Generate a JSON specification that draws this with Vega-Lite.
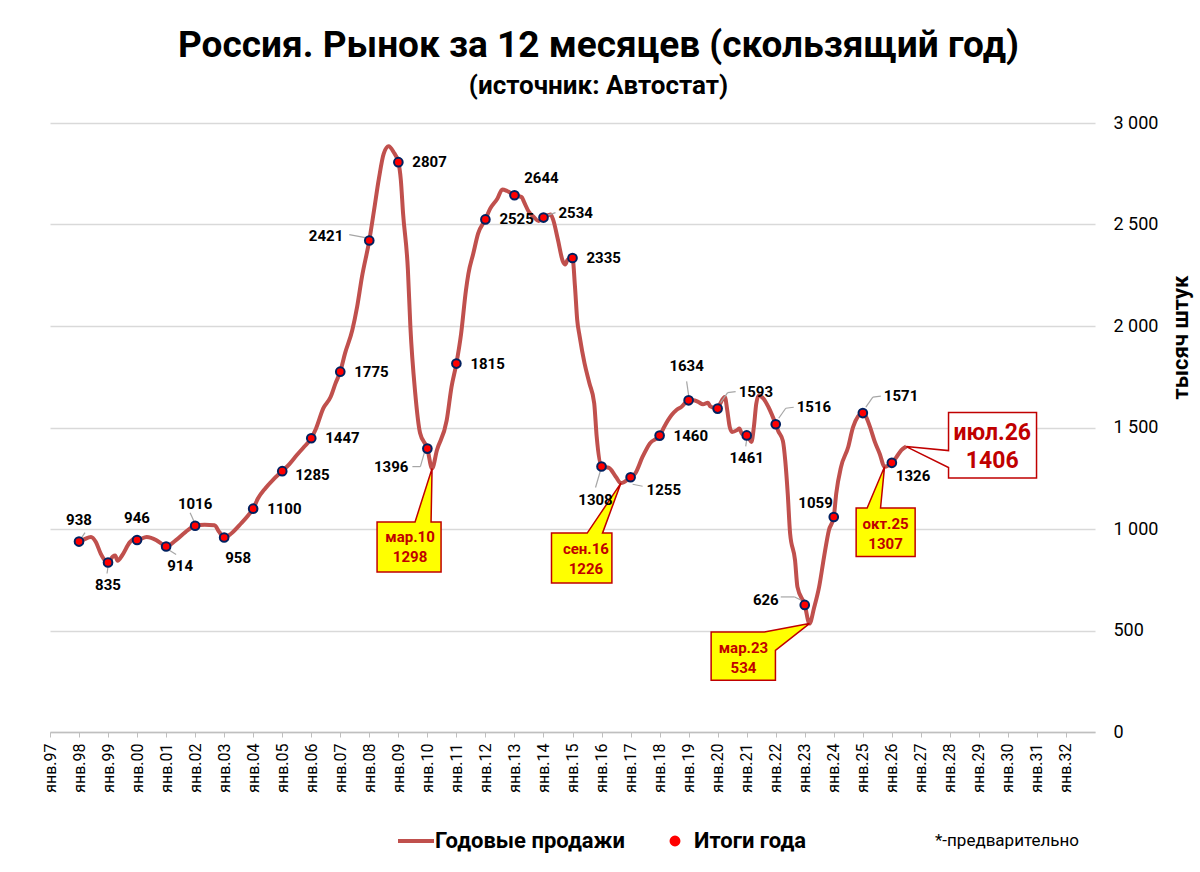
{
  "$schema": "https://vega.github.io/schema/vega-lite/v6.json",
  "width": 1045,
  "height": 609,
  "autosize": {"type": "none"},
  "padding": {"left": 50, "top": 123, "right": 105, "bottom": 140},
  "background": "white",
  "title": {
    "text": "Россия. Рынок за 12 месяцев (скользящий год)",
    "subtitle": "(источник: Автостат)",
    "anchor": "middle",
    "dx": 26,
    "offset": 14,
    "font": "Roboto",
    "fontSize": 37,
    "fontWeight": "bold",
    "color": "#000000",
    "subtitleFont": "Roboto",
    "subtitleFontSize": 26,
    "subtitleFontWeight": "bold",
    "subtitleColor": "#000000",
    "subtitlePadding": 8
  },
  "datasets": {
    "sales": [
      {"date": "1998/01/01", "value": 938},
      {"date": "1998/03/01", "value": 948},
      {"date": "1998/06/01", "value": 961},
      {"date": "1998/08/01", "value": 936},
      {"date": "1998/10/01", "value": 879},
      {"date": "1998/12/01", "value": 842},
      {"date": "1999/01/01", "value": 835},
      {"date": "1999/03/01", "value": 864},
      {"date": "1999/04/01", "value": 869},
      {"date": "1999/05/01", "value": 844},
      {"date": "1999/07/01", "value": 872},
      {"date": "1999/10/01", "value": 934},
      {"date": "1999/12/01", "value": 952},
      {"date": "2000/01/01", "value": 946},
      {"date": "2000/05/01", "value": 960},
      {"date": "2000/09/01", "value": 944},
      {"date": "2000/11/01", "value": 928},
      {"date": "2001/01/01", "value": 914},
      {"date": "2001/05/01", "value": 944},
      {"date": "2001/09/01", "value": 985},
      {"date": "2002/01/01", "value": 1016},
      {"date": "2002/05/01", "value": 1021},
      {"date": "2002/09/01", "value": 1018},
      {"date": "2002/11/01", "value": 985},
      {"date": "2003/01/01", "value": 958},
      {"date": "2003/04/01", "value": 978},
      {"date": "2003/08/01", "value": 1027},
      {"date": "2003/11/01", "value": 1068},
      {"date": "2004/01/01", "value": 1100},
      {"date": "2004/03/01", "value": 1150},
      {"date": "2004/06/01", "value": 1200},
      {"date": "2004/09/01", "value": 1240},
      {"date": "2005/01/01", "value": 1285},
      {"date": "2005/04/01", "value": 1320},
      {"date": "2005/07/01", "value": 1363},
      {"date": "2005/10/01", "value": 1404},
      {"date": "2006/01/01", "value": 1447},
      {"date": "2006/03/01", "value": 1494},
      {"date": "2006/06/01", "value": 1594},
      {"date": "2006/09/01", "value": 1650},
      {"date": "2006/11/01", "value": 1716},
      {"date": "2007/01/01", "value": 1775},
      {"date": "2007/03/01", "value": 1864},
      {"date": "2007/06/01", "value": 1979},
      {"date": "2007/08/01", "value": 2094},
      {"date": "2007/10/01", "value": 2242},
      {"date": "2008/01/01", "value": 2421},
      {"date": "2008/03/01", "value": 2570},
      {"date": "2008/05/01", "value": 2726},
      {"date": "2008/07/01", "value": 2849},
      {"date": "2008/09/01", "value": 2885},
      {"date": "2008/11/01", "value": 2857},
      {"date": "2009/01/01", "value": 2807},
      {"date": "2009/02/01", "value": 2720},
      {"date": "2009/03/01", "value": 2556},
      {"date": "2009/05/01", "value": 2277},
      {"date": "2009/06/01", "value": 1998},
      {"date": "2009/08/01", "value": 1670},
      {"date": "2009/10/01", "value": 1473},
      {"date": "2010/01/01", "value": 1396},
      {"date": "2010/03/01", "value": 1298},
      {"date": "2010/05/01", "value": 1388},
      {"date": "2010/09/01", "value": 1535},
      {"date": "2010/11/01", "value": 1700},
      {"date": "2011/01/01", "value": 1815},
      {"date": "2011/03/01", "value": 1961},
      {"date": "2011/05/01", "value": 2175},
      {"date": "2011/06/01", "value": 2257},
      {"date": "2011/08/01", "value": 2356},
      {"date": "2011/10/01", "value": 2455},
      {"date": "2012/01/01", "value": 2525},
      {"date": "2012/03/01", "value": 2578},
      {"date": "2012/06/01", "value": 2628},
      {"date": "2012/08/01", "value": 2673},
      {"date": "2012/10/01", "value": 2665},
      {"date": "2013/01/01", "value": 2644},
      {"date": "2013/04/01", "value": 2635},
      {"date": "2013/05/01", "value": 2611},
      {"date": "2013/07/01", "value": 2562},
      {"date": "2013/09/01", "value": 2537},
      {"date": "2013/11/01", "value": 2517},
      {"date": "2014/01/01", "value": 2534},
      {"date": "2014/03/01", "value": 2546},
      {"date": "2014/04/01", "value": 2549},
      {"date": "2014/05/01", "value": 2525},
      {"date": "2014/07/01", "value": 2426},
      {"date": "2014/09/01", "value": 2319},
      {"date": "2014/10/01", "value": 2303},
      {"date": "2014/11/01", "value": 2327},
      {"date": "2015/01/01", "value": 2335},
      {"date": "2015/02/01", "value": 2195},
      {"date": "2015/03/01", "value": 2031},
      {"date": "2015/04/01", "value": 1949},
      {"date": "2015/06/01", "value": 1817},
      {"date": "2015/08/01", "value": 1719},
      {"date": "2015/10/01", "value": 1620},
      {"date": "2015/11/01", "value": 1456},
      {"date": "2016/01/01", "value": 1308},
      {"date": "2016/02/01", "value": 1305},
      {"date": "2016/04/01", "value": 1302},
      {"date": "2016/07/01", "value": 1256},
      {"date": "2016/09/01", "value": 1226},
      {"date": "2017/01/01", "value": 1255},
      {"date": "2017/03/01", "value": 1274},
      {"date": "2017/06/01", "value": 1356},
      {"date": "2017/09/01", "value": 1422},
      {"date": "2018/01/01", "value": 1460},
      {"date": "2018/03/01", "value": 1504},
      {"date": "2018/06/01", "value": 1561},
      {"date": "2018/08/01", "value": 1586},
      {"date": "2018/10/01", "value": 1601},
      {"date": "2019/01/01", "value": 1634},
      {"date": "2019/03/01", "value": 1634},
      {"date": "2019/05/01", "value": 1626},
      {"date": "2019/07/01", "value": 1614},
      {"date": "2019/09/01", "value": 1622},
      {"date": "2019/10/01", "value": 1604},
      {"date": "2020/01/01", "value": 1593},
      {"date": "2020/02/01", "value": 1617},
      {"date": "2020/04/01", "value": 1650},
      {"date": "2020/05/01", "value": 1585},
      {"date": "2020/06/01", "value": 1503},
      {"date": "2020/07/01", "value": 1478},
      {"date": "2020/09/01", "value": 1487},
      {"date": "2020/10/01", "value": 1495},
      {"date": "2020/11/01", "value": 1470},
      {"date": "2021/01/01", "value": 1461},
      {"date": "2021/02/01", "value": 1445},
      {"date": "2021/03/01", "value": 1429},
      {"date": "2021/04/01", "value": 1503},
      {"date": "2021/05/01", "value": 1617},
      {"date": "2021/06/01", "value": 1658},
      {"date": "2021/08/01", "value": 1642},
      {"date": "2021/10/01", "value": 1601},
      {"date": "2022/01/01", "value": 1516},
      {"date": "2022/02/01", "value": 1483},
      {"date": "2022/04/01", "value": 1434},
      {"date": "2022/05/01", "value": 1336},
      {"date": "2022/06/01", "value": 1174},
      {"date": "2022/07/01", "value": 977},
      {"date": "2022/09/01", "value": 846},
      {"date": "2022/10/01", "value": 715},
      {"date": "2023/01/01", "value": 626},
      {"date": "2023/03/01", "value": 534},
      {"date": "2023/05/01", "value": 616},
      {"date": "2023/07/01", "value": 715},
      {"date": "2023/09/01", "value": 863},
      {"date": "2023/11/01", "value": 994},
      {"date": "2024/01/01", "value": 1059},
      {"date": "2024/02/01", "value": 1174},
      {"date": "2024/04/01", "value": 1305},
      {"date": "2024/07/01", "value": 1404},
      {"date": "2024/09/01", "value": 1503},
      {"date": "2025/01/01", "value": 1571},
      {"date": "2025/02/01", "value": 1560},
      {"date": "2025/04/01", "value": 1503},
      {"date": "2025/06/01", "value": 1429},
      {"date": "2025/08/01", "value": 1371},
      {"date": "2025/10/01", "value": 1307},
      {"date": "2026/01/01", "value": 1326},
      {"date": "2026/03/01", "value": 1355},
      {"date": "2026/05/01", "value": 1388},
      {"date": "2026/07/01", "value": 1406}
    ],
    "totals": [
      {"date": "1998/01/01", "value": 938},
      {"date": "1999/01/01", "value": 835},
      {"date": "2000/01/01", "value": 946},
      {"date": "2001/01/01", "value": 914},
      {"date": "2002/01/01", "value": 1016},
      {"date": "2003/01/01", "value": 958},
      {"date": "2004/01/01", "value": 1100},
      {"date": "2005/01/01", "value": 1285},
      {"date": "2006/01/01", "value": 1447},
      {"date": "2007/01/01", "value": 1775},
      {"date": "2008/01/01", "value": 2421},
      {"date": "2009/01/01", "value": 2807},
      {"date": "2010/01/01", "value": 1396},
      {"date": "2011/01/01", "value": 1815},
      {"date": "2012/01/01", "value": 2525},
      {"date": "2013/01/01", "value": 2644},
      {"date": "2014/01/01", "value": 2534},
      {"date": "2015/01/01", "value": 2335},
      {"date": "2016/01/01", "value": 1308},
      {"date": "2017/01/01", "value": 1255},
      {"date": "2018/01/01", "value": 1460},
      {"date": "2019/01/01", "value": 1634},
      {"date": "2020/01/01", "value": 1593},
      {"date": "2021/01/01", "value": 1461},
      {"date": "2022/01/01", "value": 1516},
      {"date": "2023/01/01", "value": 626},
      {"date": "2024/01/01", "value": 1059},
      {"date": "2025/01/01", "value": 1571},
      {"date": "2026/01/01", "value": 1326}
    ],
    "lows": [
      {"date": "2010/03/01", "value": 1298, "label": "мар.10"},
      {"date": "2016/09/01", "value": 1226, "label": "сен.16"},
      {"date": "2023/03/01", "value": 534, "label": "мар.23"},
      {"date": "2025/10/01", "value": 1307, "label": "окт.25"},
      {"date": "2026/07/01", "value": 1406, "label": "июл.26"}
    ]
  },
  "encoding": {
    "x": {
      "field": "date",
      "type": "temporal",
      "scale": {"domain": [{"year": 1997, "month": 1, "date": 1}, {"year": 2032, "month": 12, "date": 31}]},
      "axis": {
        "title": null,
        "format": "янв.%y",
        "tickCount": {"interval": "year", "step": 1},
        "labelAngle": -90,
        "labelFont": "Roboto",
        "labelFontSize": 16,
        "labelColor": "#000000",
        "labelPadding": 6,
        "labelOverlap": false,
        "labelFlush": false,
        "grid": false,
        "domainColor": "#BFBFBF",
        "domainWidth": 1.5,
        "tickColor": "#BFBFBF",
        "tickSize": 5
      }
    },
    "y": {
      "field": "value",
      "type": "quantitative",
      "scale": {"domain": [0, 3000], "nice": false},
      "axis": {
        "orient": "right",
        "values": [0, 500, 1000, 1500, 2000, 2500, 3000],
        "labelExpr": "replace(format(datum.value, ','), ',', ' ')",
        "domain": false,
        "ticks": false,
        "grid": true,
        "gridColor": "#D9D9D9",
        "gridWidth": 1.5,
        "labelPadding": 18,
        "labelAlign": "left",
        "labelFont": "Roboto",
        "labelFontSize": 18,
        "labelColor": "#000000",
        "title": "тысяч штук",
        "titleAngle": 270,
        "titleX": 85,
        "titleY": 214,
        "titleAlign": "center",
        "titleBaseline": "middle",
        "titleFont": "Roboto",
        "titleFontSize": 22,
        "titleFontWeight": "bold",
        "titleColor": "#000000"
      }
    }
  },
  "layer": [
    {
      "data": {"name": "sales"},
      "mark": {"type": "line", "strokeWidth": 4, "interpolate": "monotone"},
      "encoding": {
        "color": {
          "datum": "Годовые продажи",
          "type": "nominal",
          "scale": {"domain": ["Годовые продажи", "Итоги года"], "range": ["#C0504D", "#FF0000"]},
          "legend": {
            "orient": "none",
            "legendX": 355,
            "legendY": 707,
            "direction": "horizontal",
            "title": "*-предварительно",
            "titleOrient": "right",
            "titlePadding": 129,
            "titleFont": "Roboto",
            "titleFontSize": 17,
            "titleFontWeight": "normal",
            "titleColor": "#000000",
            "labelFont": "Roboto",
            "labelFontSize": 22,
            "labelFontWeight": "bold",
            "labelColor": "#000000",
            "labelLimit": 400,
            "labelOffset": 8,
            "symbolSize": 1296,
            "columnPadding": 39,
            "encode": {
              "symbols": {
                "update": {
                  "shape": {"signal": "datum.value === 'Годовые продажи' ? 'stroke' : 'circle'"},
                  "size": {"signal": "datum.value === 'Годовые продажи' ? 1296 : 80"},
                  "stroke": {"signal": "datum.value === 'Годовые продажи' ? '#C0504D' : '#002060'"},
                  "strokeWidth": {"signal": "datum.value === 'Годовые продажи' ? 4 : 2"},
                  "fill": {"signal": "datum.value === 'Годовые продажи' ? 'transparent' : '#FF0000'"},
                  "opacity": {"value": 1}
                }
              }
            }
          }
        }
      }
    },
    {
      "data": {"name": "lows"},
      "transform": [{"filter": {"field": "label", "equal": "мар.10"}}],
      "mark": {"type": "point", "shape": "M -0.55 0.534 L -0.17 0.534 L 0 0 L -0.01 0.534 L 0.09 0.534 L 0.09 1.034 L -0.55 1.034 Z", "size": 40000, "filled": true, "fill": "#FFFF00", "stroke": "#C00000", "strokeWidth": 1.5, "opacity": 1}
    },
    {
      "data": {"name": "lows"},
      "transform": [{"filter": {"field": "label", "equal": "сен.16"}}],
      "mark": {"type": "point", "shape": "M -0.694 0.5 L -0.337 0.5 L 0 0 L -0.184 0.5 L -0.09 0.5 L -0.09 1.0 L -0.694 1.0 Z", "size": 40000, "filled": true, "fill": "#FFFF00", "stroke": "#C00000", "strokeWidth": 1.5, "opacity": 1}
    },
    {
      "data": {"name": "lows"},
      "transform": [{"filter": {"field": "label", "equal": "мар.23"}}],
      "mark": {"type": "point", "shape": "M -0.983 0.084 L -0.45 0.084 L 0 0 L -0.34 0.267 L -0.34 0.567 L -0.983 0.567 Z", "size": 40000, "filled": true, "fill": "#FFFF00", "stroke": "#C00000", "strokeWidth": 1.5, "opacity": 1}
    },
    {
      "data": {"name": "lows"},
      "transform": [{"filter": {"field": "label", "equal": "окт.25"}}],
      "mark": {"type": "point", "shape": "M -0.284 0.413 L -0.174 0.413 L 0 0 L -0.04 0.413 L 0.306 0.413 L 0.306 0.897 L -0.284 0.897 Z", "size": 40000, "filled": true, "fill": "#FFFF00", "stroke": "#C00000", "strokeWidth": 1.5, "opacity": 1}
    },
    {
      "data": {"name": "lows"},
      "transform": [{"filter": {"field": "label", "equal": "июл.26"}}],
      "mark": {"type": "point", "shape": "M 0.423 -0.34 L 1.303 -0.34 L 1.303 0.313 L 0.423 0.313 L 0.423 0.21 L 0 0 L 0.423 0.04 Z", "size": 40000, "filled": true, "fill": "#FFFFFF", "stroke": "#C00000", "strokeWidth": 1.5, "opacity": 1}
    },
    {
      "data": {"name": "lows"},
      "transform": [
        {"filter": {"field": "label", "oneOf": ["мар.10"]}},
        {"calculate": "datum.label + '\\n' + datum.value", "as": "tag"}
      ],
      "mark": {"type": "text", "lineBreak": "\n", "lineHeight": 20, "align": "center", "baseline": "middle", "dx": -22, "dy": 68, "font": "Roboto", "fontSize": 15, "fontWeight": "bold", "color": "#C00000"},
      "encoding": {"text": {"field": "tag", "type": "nominal"}}
    },
    {
      "data": {"name": "lows"},
      "transform": [
        {"filter": {"field": "label", "oneOf": ["сен.16"]}},
        {"calculate": "datum.label + '\\n' + datum.value", "as": "tag"}
      ],
      "mark": {"type": "text", "lineBreak": "\n", "lineHeight": 20, "align": "center", "baseline": "middle", "dx": -35, "dy": 66, "font": "Roboto", "fontSize": 15, "fontWeight": "bold", "color": "#C00000"},
      "encoding": {"text": {"field": "tag", "type": "nominal"}}
    },
    {
      "data": {"name": "lows"},
      "transform": [
        {"filter": {"field": "label", "oneOf": ["мар.23"]}},
        {"calculate": "datum.label + '\\n' + datum.value", "as": "tag"}
      ],
      "mark": {"type": "text", "lineBreak": "\n", "lineHeight": 20, "align": "center", "baseline": "middle", "dx": -66, "dy": 24, "font": "Roboto", "fontSize": 15, "fontWeight": "bold", "color": "#C00000"},
      "encoding": {"text": {"field": "tag", "type": "nominal"}}
    },
    {
      "data": {"name": "lows"},
      "transform": [
        {"filter": {"field": "label", "oneOf": ["окт.25"]}},
        {"calculate": "datum.label + '\\n' + datum.value", "as": "tag"}
      ],
      "mark": {"type": "text", "lineBreak": "\n", "lineHeight": 20, "align": "center", "baseline": "middle", "dx": 1, "dy": 57, "font": "Roboto", "fontSize": 15, "fontWeight": "bold", "color": "#C00000"},
      "encoding": {"text": {"field": "tag", "type": "nominal"}}
    },
    {
      "data": {"name": "lows"},
      "transform": [
        {"filter": {"field": "label", "oneOf": ["июл.26"]}},
        {"calculate": "datum.label + '\\n' + datum.value", "as": "tag"}
      ],
      "mark": {"type": "text", "lineBreak": "\n", "lineHeight": 28, "align": "center", "baseline": "middle", "dx": 86, "dy": -14, "font": "Roboto", "fontSize": 23, "fontWeight": "bold", "color": "#C00000"},
      "encoding": {"text": {"field": "tag", "type": "nominal"}}
    },
    {
      "data": {"name": "totals"},
      "transform": [{"filter": {"field": "date", "timeUnit": "year", "oneOf": [2020, 2022, 2025]}}],
      "mark": {"type": "rule", "color": "#A6A6A6", "strokeWidth": 1.2, "xOffset": 3, "yOffset": -6, "x2Offset": 10, "y2Offset": -16},
      "encoding": {"x2": {"field": "date"}, "y2": {"field": "value"}}
    },
    {
      "data": {"name": "totals"},
      "transform": [{"filter": {"field": "date", "timeUnit": "year", "oneOf": [2020, 2022, 2025]}}],
      "mark": {"type": "rule", "color": "#A6A6A6", "strokeWidth": 1.2, "xOffset": 10, "yOffset": -16, "x2Offset": 18, "y2Offset": -17},
      "encoding": {"x2": {"field": "date"}, "y2": {"field": "value"}}
    },
    {
      "data": {"name": "totals"},
      "transform": [{"filter": {"field": "date", "timeUnit": "year", "oneOf": [2008]}}],
      "mark": {"type": "rule", "color": "#A6A6A6", "strokeWidth": 1.2, "xOffset": -4, "yOffset": -3, "x2Offset": -20, "y2Offset": -6},
      "encoding": {"x2": {"field": "date"}, "y2": {"field": "value"}}
    },
    {
      "data": {"name": "totals"},
      "transform": [{"filter": {"field": "date", "timeUnit": "year", "oneOf": [2023]}}],
      "mark": {"type": "rule", "color": "#A6A6A6", "strokeWidth": 1.2, "xOffset": -4, "yOffset": -5, "x2Offset": -10, "y2Offset": -8},
      "encoding": {"x2": {"field": "date"}, "y2": {"field": "value"}}
    },
    {
      "data": {"name": "totals"},
      "transform": [{"filter": {"field": "date", "timeUnit": "year", "oneOf": [2023]}}],
      "mark": {"type": "rule", "color": "#A6A6A6", "strokeWidth": 1.2, "xOffset": -10, "yOffset": -8, "x2Offset": -24, "y2Offset": -8},
      "encoding": {"x2": {"field": "date"}, "y2": {"field": "value"}}
    },
    {
      "data": {"name": "totals"},
      "transform": [{"filter": {"field": "date", "timeUnit": "year", "oneOf": [2010]}}],
      "mark": {"type": "rule", "color": "#A6A6A6", "strokeWidth": 1.2, "xOffset": -3, "yOffset": 4, "x2Offset": -7, "y2Offset": 18},
      "encoding": {"x2": {"field": "date"}, "y2": {"field": "value"}}
    },
    {
      "data": {"name": "totals"},
      "transform": [{"filter": {"field": "date", "timeUnit": "year", "oneOf": [2010]}}],
      "mark": {"type": "rule", "color": "#A6A6A6", "strokeWidth": 1.2, "xOffset": -7, "yOffset": 18, "x2Offset": -15, "y2Offset": 18},
      "encoding": {"x2": {"field": "date"}, "y2": {"field": "value"}}
    },
    {
      "data": {"name": "totals"},
      "transform": [{"filter": {"field": "date", "timeUnit": "year", "oneOf": [2014]}}],
      "mark": {"type": "rule", "color": "#A6A6A6", "strokeWidth": 1.2, "xOffset": 3, "yOffset": -2, "x2Offset": 12, "y2Offset": -5},
      "encoding": {"x2": {"field": "date"}, "y2": {"field": "value"}}
    },
    {
      "data": {"name": "totals"},
      "transform": [{"filter": {"field": "date", "timeUnit": "year", "oneOf": [2016]}}],
      "mark": {"type": "rule", "color": "#A6A6A6", "strokeWidth": 1.2, "xOffset": -1, "yOffset": 4, "x2Offset": -6, "y2Offset": 21},
      "encoding": {"x2": {"field": "date"}, "y2": {"field": "value"}}
    },
    {
      "data": {"name": "totals"},
      "transform": [{"filter": {"field": "date", "timeUnit": "year", "oneOf": [2017]}}],
      "mark": {"type": "rule", "color": "#A6A6A6", "strokeWidth": 1.2, "xOffset": 2, "yOffset": 7, "x2Offset": 12, "y2Offset": 9},
      "encoding": {"x2": {"field": "date"}, "y2": {"field": "value"}}
    },
    {
      "data": {"name": "totals"},
      "transform": [{"filter": {"field": "date", "timeUnit": "year", "oneOf": [2019]}}],
      "mark": {"type": "rule", "color": "#A6A6A6", "strokeWidth": 1.2, "xOffset": 0, "yOffset": -5, "x2Offset": -2, "y2Offset": -19},
      "encoding": {"x2": {"field": "date"}, "y2": {"field": "value"}}
    },
    {
      "data": {"name": "totals"},
      "transform": [{"filter": {"field": "date", "timeUnit": "year", "oneOf": [2021, 1999]}}],
      "mark": {"type": "rule", "color": "#A6A6A6", "strokeWidth": 1.2, "xOffset": 0, "yOffset": 4, "x2Offset": -1, "y2Offset": 11},
      "encoding": {"x2": {"field": "date"}, "y2": {"field": "value"}}
    },
    {
      "data": {"name": "totals"},
      "transform": [{"filter": {"field": "date", "timeUnit": "year", "oneOf": [2001]}}],
      "mark": {"type": "rule", "color": "#A6A6A6", "strokeWidth": 1.2, "xOffset": 2, "yOffset": 3, "x2Offset": 10, "y2Offset": 8},
      "encoding": {"x2": {"field": "date"}, "y2": {"field": "value"}}
    },
    {
      "data": {"name": "totals"},
      "transform": [{"filter": {"field": "date", "timeUnit": "year", "oneOf": [2002]}}],
      "mark": {"type": "rule", "color": "#A6A6A6", "strokeWidth": 1.2, "xOffset": -1, "yOffset": -4, "x2Offset": -5, "y2Offset": -13},
      "encoding": {"x2": {"field": "date"}, "y2": {"field": "value"}}
    },
    {
      "data": {"name": "totals"},
      "transform": [{"filter": {"field": "date", "timeUnit": "year", "oneOf": [1998]}}],
      "mark": {"type": "rule", "color": "#A6A6A6", "strokeWidth": 1.2, "xOffset": 2, "yOffset": -3, "x2Offset": 6, "y2Offset": -9},
      "encoding": {"x2": {"field": "date"}, "y2": {"field": "value"}}
    },
    {
      "data": {"name": "totals"},
      "mark": {"type": "point", "filled": true, "size": 75, "stroke": "#002060", "strokeWidth": 2, "opacity": 1},
      "encoding": {"color": {"datum": "Итоги года", "type": "nominal"}}
    },
    {
      "data": {"name": "totals"},
      "transform": [{"filter": {"field": "date", "timeUnit": "year", "oneOf": [2004, 2006, 2007, 2009, 2011, 2012, 2015, 2018]}}],
      "mark": {"type": "text", "align": "left", "baseline": "middle", "dx": 14, "dy": 0, "font": "Roboto", "fontSize": 15, "fontWeight": "bold", "color": "#000000"},
      "encoding": {"text": {"field": "value", "type": "nominal"}}
    },
    {
      "data": {"name": "totals"},
      "transform": [{"filter": {"field": "date", "timeUnit": "year", "oneOf": [2005]}}],
      "mark": {"type": "text", "align": "left", "baseline": "middle", "dx": 13, "dy": 4, "font": "Roboto", "fontSize": 15, "fontWeight": "bold", "color": "#000000"},
      "encoding": {"text": {"field": "value", "type": "nominal"}}
    },
    {
      "data": {"name": "totals"},
      "transform": [{"filter": {"field": "date", "timeUnit": "year", "oneOf": [2014]}}],
      "mark": {"type": "text", "align": "left", "baseline": "middle", "dx": 15, "dy": -5, "font": "Roboto", "fontSize": 15, "fontWeight": "bold", "color": "#000000"},
      "encoding": {"text": {"field": "value", "type": "nominal"}}
    },
    {
      "data": {"name": "totals"},
      "transform": [{"filter": {"field": "date", "timeUnit": "year", "oneOf": [1998, 2000, 2002]}}],
      "mark": {"type": "text", "align": "center", "baseline": "middle", "dx": 0, "dy": -22, "font": "Roboto", "fontSize": 15, "fontWeight": "bold", "color": "#000000"},
      "encoding": {"text": {"field": "value", "type": "nominal"}}
    },
    {
      "data": {"name": "totals"},
      "transform": [{"filter": {"field": "date", "timeUnit": "year", "oneOf": [2019]}}],
      "mark": {"type": "text", "align": "center", "baseline": "middle", "dx": -2, "dy": -34, "font": "Roboto", "fontSize": 15, "fontWeight": "bold", "color": "#000000"},
      "encoding": {"text": {"field": "value", "type": "nominal"}}
    },
    {
      "data": {"name": "totals"},
      "transform": [{"filter": {"field": "date", "timeUnit": "year", "oneOf": [1999, 2021]}}],
      "mark": {"type": "text", "align": "center", "baseline": "middle", "dx": 0, "dy": 23, "font": "Roboto", "fontSize": 15, "fontWeight": "bold", "color": "#000000"},
      "encoding": {"text": {"field": "value", "type": "nominal"}}
    },
    {
      "data": {"name": "totals"},
      "transform": [{"filter": {"field": "date", "timeUnit": "year", "oneOf": [2016]}}],
      "mark": {"type": "text", "align": "center", "baseline": "middle", "dx": -6, "dy": 34, "font": "Roboto", "fontSize": 15, "fontWeight": "bold", "color": "#000000"},
      "encoding": {"text": {"field": "value", "type": "nominal"}}
    },
    {
      "data": {"name": "totals"},
      "transform": [{"filter": {"field": "date", "timeUnit": "year", "oneOf": [2001, 2003]}}],
      "mark": {"type": "text", "align": "center", "baseline": "middle", "dx": 14, "dy": 20, "font": "Roboto", "fontSize": 15, "fontWeight": "bold", "color": "#000000"},
      "encoding": {"text": {"field": "value", "type": "nominal"}}
    },
    {
      "data": {"name": "totals"},
      "transform": [{"filter": {"field": "date", "timeUnit": "year", "oneOf": [2008, 2023]}}],
      "mark": {"type": "text", "align": "right", "baseline": "middle", "dx": -26, "dy": -5, "font": "Roboto", "fontSize": 15, "fontWeight": "bold", "color": "#000000"},
      "encoding": {"text": {"field": "value", "type": "nominal"}}
    },
    {
      "data": {"name": "totals"},
      "transform": [{"filter": {"field": "date", "timeUnit": "year", "oneOf": [2010]}}],
      "mark": {"type": "text", "align": "right", "baseline": "middle", "dx": -19, "dy": 18, "font": "Roboto", "fontSize": 15, "fontWeight": "bold", "color": "#000000"},
      "encoding": {"text": {"field": "value", "type": "nominal"}}
    },
    {
      "data": {"name": "totals"},
      "transform": [{"filter": {"field": "date", "timeUnit": "year", "oneOf": [2020, 2022, 2025]}}],
      "mark": {"type": "text", "align": "left", "baseline": "middle", "dx": 21, "dy": -17, "font": "Roboto", "fontSize": 15, "fontWeight": "bold", "color": "#000000"},
      "encoding": {"text": {"field": "value", "type": "nominal"}}
    },
    {
      "data": {"name": "totals"},
      "transform": [{"filter": {"field": "date", "timeUnit": "year", "oneOf": [2013]}}],
      "mark": {"type": "text", "align": "center", "baseline": "middle", "dx": 27, "dy": -17, "font": "Roboto", "fontSize": 15, "fontWeight": "bold", "color": "#000000"},
      "encoding": {"text": {"field": "value", "type": "nominal"}}
    },
    {
      "data": {"name": "totals"},
      "transform": [{"filter": {"field": "date", "timeUnit": "year", "oneOf": [2017]}}],
      "mark": {"type": "text", "align": "left", "baseline": "middle", "dx": 16, "dy": 13, "font": "Roboto", "fontSize": 15, "fontWeight": "bold", "color": "#000000"},
      "encoding": {"text": {"field": "value", "type": "nominal"}}
    },
    {
      "data": {"name": "totals"},
      "transform": [{"filter": {"field": "date", "timeUnit": "year", "oneOf": [2026]}}],
      "mark": {"type": "text", "align": "left", "baseline": "middle", "dx": 4, "dy": 13, "font": "Roboto", "fontSize": 15, "fontWeight": "bold", "color": "#000000"},
      "encoding": {"text": {"field": "value", "type": "nominal"}}
    },
    {
      "data": {"name": "totals"},
      "transform": [{"filter": {"field": "date", "timeUnit": "year", "oneOf": [2024]}}],
      "mark": {"type": "text", "align": "right", "baseline": "middle", "dx": -1, "dy": -14, "font": "Roboto", "fontSize": 15, "fontWeight": "bold", "color": "#000000"},
      "encoding": {"text": {"field": "value", "type": "nominal"}}
    }
  ],
  "config": {
    "font": "Roboto",
    "view": {"stroke": null}
  }
}
